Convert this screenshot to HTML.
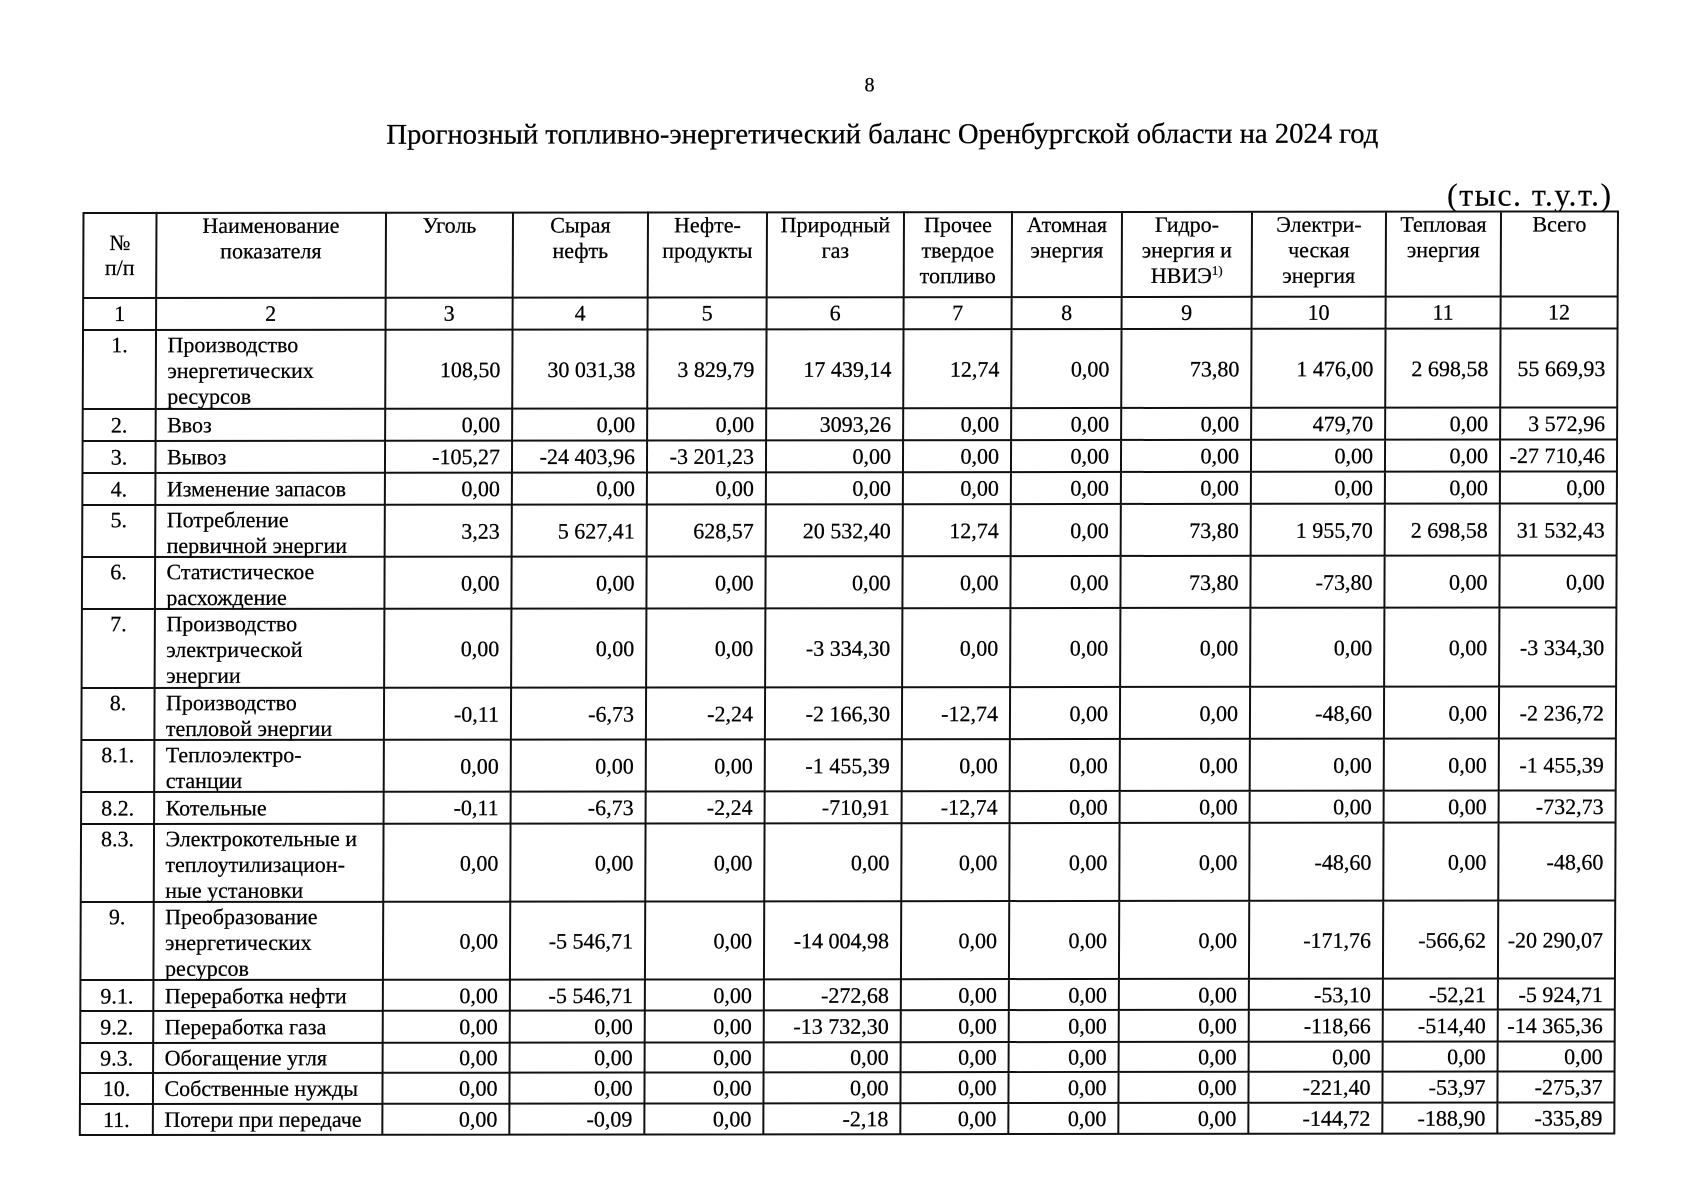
<!DOCTYPE html>
<html lang="ru">
<head>
<meta charset="utf-8">
<style>
  html, body { margin: 0; padding: 0; background: #fff; }
  #pg { width: 1695px; height: 1200px; overflow: hidden; background: #fff; }
  svg { display: block; }
  text { font-family: "Liberation Serif", "DejaVu Serif", serif; font-size: 22px; fill: #000; stroke: #000; stroke-width: 0.25px; }
  .c { text-anchor: middle; }
  .r { text-anchor: end; }
</style>
</head>
<body>
<div id="pg">
<svg width="1695" height="1200" viewBox="0 0 1695 1200" xmlns="http://www.w3.org/2000/svg">
<g transform="matrix(1 -0.001 -0.004 1 0.852 0.082)">

  <!-- page number / title / units -->
  <text class="c" x="869" y="92" style="font-size:20px">8</text>
  <text x="386" y="144" style="font-size:28.6px" textLength="992" lengthAdjust="spacingAndGlyphs">Прогнозный топливно-энергетический баланс Оренбургской области на 2024 год</text>
  <text x="1447" y="207" style="font-size:32px; stroke-width:0.15px" textLength="164" lengthAdjust="spacing">(тыс. т.у.т.)</text>

  <!-- grid -->
  <path fill="none" stroke="#111" stroke-width="2" stroke-linecap="square" d="
    M83.5 213 H1618 M83.5 298 H1618 M83.5 330 H1618 M83.5 409 H1618 M83.5 441 H1618
    M83.5 473 H1618 M83.5 505 H1618 M83.5 557 H1618 M83.5 609 H1618 M83.5 688 H1618
    M83.5 740 H1618 M83.5 792 H1618 M83.5 824 H1618 M83.5 902 H1618 M83.5 980 H1618
    M83.5 1011 H1618 M83.5 1043 H1618 M83.5 1073 H1618 M83.5 1104 H1618 M83.5 1135 H1618
    M83.5 213 V1135 M156.5 213 V1135 M386 213 V1135 M513 213 V1135 M648 213 V1135
    M767 213 V1135 M904 213 V1135 M1012 213 V1135 M1122 213 V1135 M1252 213 V1135
    M1386 213 V1135 M1501 213 V1135 M1618 213 V1135"/>

  <!-- header -->
  <text class="c"><tspan x="120" y="250">№</tspan><tspan x="120" y="275">п/п</tspan></text>
  <text class="c"><tspan x="271" y="233">Наименование</tspan><tspan x="271" y="258.5">показателя</tspan></text>
  <text class="c"><tspan x="449.5" y="233">Уголь</tspan></text>
  <text class="c"><tspan x="580.5" y="233">Сырая</tspan><tspan x="580.5" y="258.5">нефть</tspan></text>
  <text class="c"><tspan x="707.5" y="233">Нефте-</tspan><tspan x="707.5" y="258.5">продукты</tspan></text>
  <text class="c"><tspan x="835.5" y="233">Природный</tspan><tspan x="835.5" y="258.5">газ</tspan></text>
  <text class="c"><tspan x="958" y="233">Прочее</tspan><tspan x="958" y="258.5">твердое</tspan><tspan x="958" y="284">топливо</tspan></text>
  <text class="c"><tspan x="1067" y="233">Атомная</tspan><tspan x="1067" y="258.5">энергия</tspan></text>
  <text class="c"><tspan x="1187" y="233">Гидро-</tspan><tspan x="1187" y="258.5">энергия и</tspan></text>
  <text class="c" x="1187" y="284">НВИЭ<tspan dy="-8" style="font-size:13px">1)</tspan></text>
  <text class="c"><tspan x="1319" y="233">Электри-</tspan><tspan x="1319" y="258.5">ческая</tspan><tspan x="1319" y="284">энергия</tspan></text>
  <text class="c"><tspan x="1443.5" y="233">Тепловая</tspan><tspan x="1443.5" y="258.5">энергия</tspan></text>
  <text class="c"><tspan x="1559.5" y="233">Всего</tspan></text>

  <!-- column numbers -->
  <text class="c" y="321"><tspan x="120">1</tspan><tspan x="271">2</tspan><tspan x="449.5">3</tspan><tspan x="580.5">4</tspan><tspan x="707.5">5</tspan><tspan x="835.5">6</tspan><tspan x="958">7</tspan><tspan x="1067">8</tspan><tspan x="1187">9</tspan><tspan x="1319">10</tspan><tspan x="1443.5">11</tspan><tspan x="1559.5">12</tspan></text>

  <!-- index column -->
  <text class="c"><tspan x="120" y="352.3">1.</tspan><tspan x="120" y="432.5">2.</tspan><tspan x="120" y="464.5">3.</tspan><tspan x="120" y="496.5">4.</tspan><tspan x="120" y="527.3">5.</tspan><tspan x="120" y="579.3">6.</tspan><tspan x="120" y="631.3">7.</tspan><tspan x="120" y="710.3">8.</tspan><tspan x="120" y="762.3">8.1.</tspan><tspan x="120" y="815.5">8.2.</tspan><tspan x="120" y="846.3">8.3.</tspan><tspan x="120" y="924.3">9.</tspan><tspan x="120" y="1003.5">9.1.</tspan><tspan x="120" y="1034.5">9.2.</tspan><tspan x="120" y="1065.5">9.3.</tspan><tspan x="120" y="1096">10.</tspan><tspan x="120" y="1127">11.</tspan></text>

  <!-- labels -->
  <text><tspan x="168" y="352.3">Производство</tspan><tspan x="168" y="378.1">энергетических</tspan><tspan x="168" y="403.9">ресурсов</tspan></text>
  <text x="168" y="432.5">Ввоз</text>
  <text x="168" y="464.5">Вывоз</text>
  <text x="168" y="496.5">Изменение запасов</text>
  <text><tspan x="168" y="527.3">Потребление</tspan><tspan x="168" y="553.1">первичной энергии</tspan></text>
  <text><tspan x="168" y="579.3">Статистическое</tspan><tspan x="168" y="605.1">расхождение</tspan></text>
  <text><tspan x="168" y="631.3">Производство</tspan><tspan x="168" y="657.1">электрической</tspan><tspan x="168" y="682.9">энергии</tspan></text>
  <text><tspan x="168" y="710.3">Производство</tspan><tspan x="168" y="736.1">тепловой энергии</tspan></text>
  <text><tspan x="168" y="762.3">Теплоэлектро-</tspan><tspan x="168" y="788.1">станции</tspan></text>
  <text x="168" y="815.5">Котельные</text>
  <text><tspan x="168" y="846.3">Электрокотельные и</tspan><tspan x="168" y="872.1">теплоутилизацион-</tspan><tspan x="168" y="897.9">ные установки</tspan></text>
  <text><tspan x="168" y="924.3">Преобразование</tspan><tspan x="168" y="950.1">энергетических</tspan><tspan x="168" y="975.9">ресурсов</tspan></text>
  <text x="168" y="1003.5">Переработка нефти</text>
  <text x="168" y="1034.5">Переработка газа</text>
  <text x="168" y="1065.5">Обогащение угля</text>
  <text x="168" y="1096">Собственные нужды</text>
  <text x="168" y="1127">Потери при передаче</text>

  <!-- values -->
  <text class="r" y="377.5"><tspan x="501">108,50</tspan><tspan x="636">30 031,38</tspan><tspan x="755">3 829,79</tspan><tspan x="892">17 439,14</tspan><tspan x="1000">12,74</tspan><tspan x="1110">0,00</tspan><tspan x="1240">73,80</tspan><tspan x="1374">1 476,00</tspan><tspan x="1489">2 698,58</tspan><tspan x="1606">55 669,93</tspan></text>
  <text class="r" y="432.5"><tspan x="501">0,00</tspan><tspan x="636">0,00</tspan><tspan x="755">0,00</tspan><tspan x="892">3093,26</tspan><tspan x="1000">0,00</tspan><tspan x="1110">0,00</tspan><tspan x="1240">0,00</tspan><tspan x="1374">479,70</tspan><tspan x="1489">0,00</tspan><tspan x="1606">3 572,96</tspan></text>
  <text class="r" y="464.5"><tspan x="501">-105,27</tspan><tspan x="636">-24 403,96</tspan><tspan x="755">-3 201,23</tspan><tspan x="892">0,00</tspan><tspan x="1000">0,00</tspan><tspan x="1110">0,00</tspan><tspan x="1240">0,00</tspan><tspan x="1374">0,00</tspan><tspan x="1489">0,00</tspan><tspan x="1606">-27 710,46</tspan></text>
  <text class="r" y="496.5"><tspan x="501">0,00</tspan><tspan x="636">0,00</tspan><tspan x="755">0,00</tspan><tspan x="892">0,00</tspan><tspan x="1000">0,00</tspan><tspan x="1110">0,00</tspan><tspan x="1240">0,00</tspan><tspan x="1374">0,00</tspan><tspan x="1489">0,00</tspan><tspan x="1606">0,00</tspan></text>
  <text class="r" y="539"><tspan x="501">3,23</tspan><tspan x="636">5 627,41</tspan><tspan x="755">628,57</tspan><tspan x="892">20 532,40</tspan><tspan x="1000">12,74</tspan><tspan x="1110">0,00</tspan><tspan x="1240">73,80</tspan><tspan x="1374">1 955,70</tspan><tspan x="1489">2 698,58</tspan><tspan x="1606">31 532,43</tspan></text>
  <text class="r" y="591"><tspan x="501">0,00</tspan><tspan x="636">0,00</tspan><tspan x="755">0,00</tspan><tspan x="892">0,00</tspan><tspan x="1000">0,00</tspan><tspan x="1110">0,00</tspan><tspan x="1240">73,80</tspan><tspan x="1374">-73,80</tspan><tspan x="1489">0,00</tspan><tspan x="1606">0,00</tspan></text>
  <text class="r" y="656.5"><tspan x="501">0,00</tspan><tspan x="636">0,00</tspan><tspan x="755">0,00</tspan><tspan x="892">-3 334,30</tspan><tspan x="1000">0,00</tspan><tspan x="1110">0,00</tspan><tspan x="1240">0,00</tspan><tspan x="1374">0,00</tspan><tspan x="1489">0,00</tspan><tspan x="1606">-3 334,30</tspan></text>
  <text class="r" y="722"><tspan x="501">-0,11</tspan><tspan x="636">-6,73</tspan><tspan x="755">-2,24</tspan><tspan x="892">-2 166,30</tspan><tspan x="1000">-12,74</tspan><tspan x="1110">0,00</tspan><tspan x="1240">0,00</tspan><tspan x="1374">-48,60</tspan><tspan x="1489">0,00</tspan><tspan x="1606">-2 236,72</tspan></text>
  <text class="r" y="774"><tspan x="501">0,00</tspan><tspan x="636">0,00</tspan><tspan x="755">0,00</tspan><tspan x="892">-1 455,39</tspan><tspan x="1000">0,00</tspan><tspan x="1110">0,00</tspan><tspan x="1240">0,00</tspan><tspan x="1374">0,00</tspan><tspan x="1489">0,00</tspan><tspan x="1606">-1 455,39</tspan></text>
  <text class="r" y="815.5"><tspan x="501">-0,11</tspan><tspan x="636">-6,73</tspan><tspan x="755">-2,24</tspan><tspan x="892">-710,91</tspan><tspan x="1000">-12,74</tspan><tspan x="1110">0,00</tspan><tspan x="1240">0,00</tspan><tspan x="1374">0,00</tspan><tspan x="1489">0,00</tspan><tspan x="1606">-732,73</tspan></text>
  <text class="r" y="871"><tspan x="501">0,00</tspan><tspan x="636">0,00</tspan><tspan x="755">0,00</tspan><tspan x="892">0,00</tspan><tspan x="1000">0,00</tspan><tspan x="1110">0,00</tspan><tspan x="1240">0,00</tspan><tspan x="1374">-48,60</tspan><tspan x="1489">0,00</tspan><tspan x="1606">-48,60</tspan></text>
  <text class="r" y="949"><tspan x="501">0,00</tspan><tspan x="636">-5 546,71</tspan><tspan x="755">0,00</tspan><tspan x="892">-14 004,98</tspan><tspan x="1000">0,00</tspan><tspan x="1110">0,00</tspan><tspan x="1240">0,00</tspan><tspan x="1374">-171,76</tspan><tspan x="1489">-566,62</tspan><tspan x="1606">-20 290,07</tspan></text>
  <text class="r" y="1003.5"><tspan x="501">0,00</tspan><tspan x="636">-5 546,71</tspan><tspan x="755">0,00</tspan><tspan x="892">-272,68</tspan><tspan x="1000">0,00</tspan><tspan x="1110">0,00</tspan><tspan x="1240">0,00</tspan><tspan x="1374">-53,10</tspan><tspan x="1489">-52,21</tspan><tspan x="1606">-5 924,71</tspan></text>
  <text class="r" y="1034.5"><tspan x="501">0,00</tspan><tspan x="636">0,00</tspan><tspan x="755">0,00</tspan><tspan x="892">-13 732,30</tspan><tspan x="1000">0,00</tspan><tspan x="1110">0,00</tspan><tspan x="1240">0,00</tspan><tspan x="1374">-118,66</tspan><tspan x="1489">-514,40</tspan><tspan x="1606">-14 365,36</tspan></text>
  <text class="r" y="1065.5"><tspan x="501">0,00</tspan><tspan x="636">0,00</tspan><tspan x="755">0,00</tspan><tspan x="892">0,00</tspan><tspan x="1000">0,00</tspan><tspan x="1110">0,00</tspan><tspan x="1240">0,00</tspan><tspan x="1374">0,00</tspan><tspan x="1489">0,00</tspan><tspan x="1606">0,00</tspan></text>
  <text class="r" y="1096"><tspan x="501">0,00</tspan><tspan x="636">0,00</tspan><tspan x="755">0,00</tspan><tspan x="892">0,00</tspan><tspan x="1000">0,00</tspan><tspan x="1110">0,00</tspan><tspan x="1240">0,00</tspan><tspan x="1374">-221,40</tspan><tspan x="1489">-53,97</tspan><tspan x="1606">-275,37</tspan></text>
  <text class="r" y="1127"><tspan x="501">0,00</tspan><tspan x="636">-0,09</tspan><tspan x="755">0,00</tspan><tspan x="892">-2,18</tspan><tspan x="1000">0,00</tspan><tspan x="1110">0,00</tspan><tspan x="1240">0,00</tspan><tspan x="1374">-144,72</tspan><tspan x="1489">-188,90</tspan><tspan x="1606">-335,89</tspan></text>
</g>
</svg>
</div>
</body>
</html>
